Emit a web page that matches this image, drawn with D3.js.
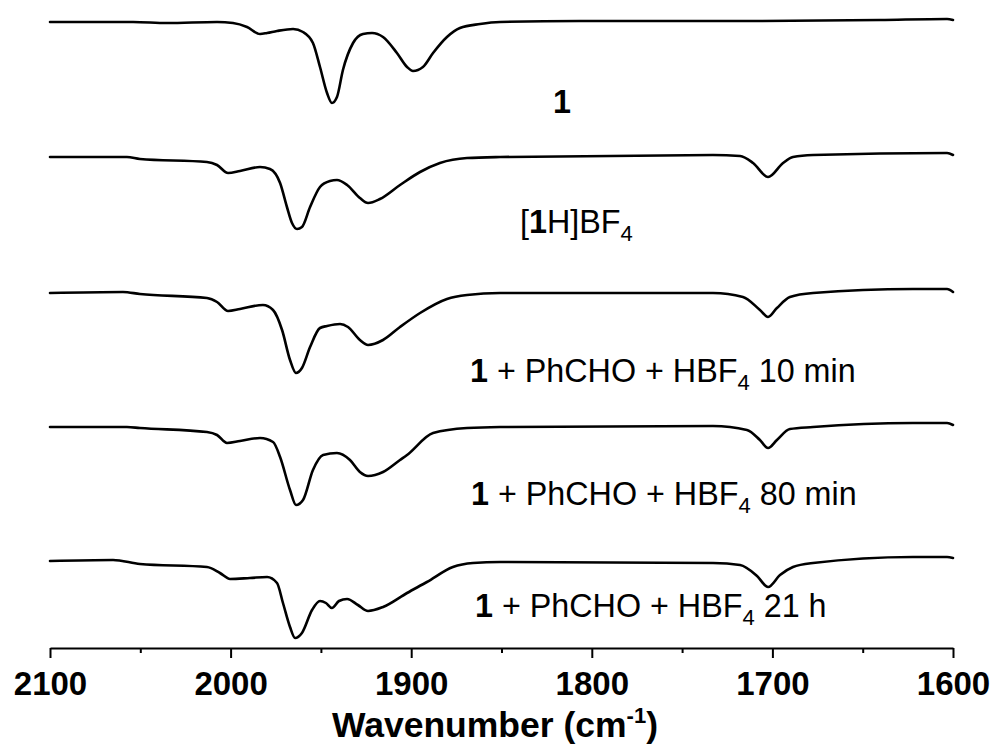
<!DOCTYPE html>
<html>
<head>
<meta charset="utf-8">
<script src="https://cdn.jsdelivr.net/npm/d3@7"></script>
<style>
  html, body { margin: 0; padding: 0; background: #fff; }
  svg { display: block; }
  text { font-family: "Liberation Sans", Arial, sans-serif; fill: #000; }
</style>
</head>
<body>
<svg id="chart" width="997" height="748"></svg>
<script>
// ---- Data (wavenumber in cm^-1, transmittance in arbitrary stacked units) ----
const wn1 = [2100,2054.0,2035.2,2007.5,1998.7,1990.9,1983.7,1979.8,1974.3,1965.4,1959.9,1954.4,1950.5,1946.6,1943.9,1941.1,1937.8,1932.2,1926.7,1921.7,1915.6,1907.9,1902.3,1899.0,1893.5,1887.9,1880.2,1873.0,1861.9,1850.8,1806.5,1714.1,1640.4,1603.3,1600];
const t1  = [62.6,62.6,62.5,62.6,62.5,62.1,61.4,61.5,61.7,61.9,61.6,60.5,58.1,55.5,54.5,55.1,57.8,60.5,61.4,61.5,61.1,59.5,58.1,57.7,58.1,59.5,61.1,62.0,62.4,62.6,62.7,62.7,62.8,62.9,62.8];

const wn2 = [2100,2057.4,2050.2,2013.1,2007.5,2001.4,1994.8,1983.7,1978.2,1972.6,1968.8,1966.0,1963.2,1960.5,1956.0,1950.5,1945.0,1941.1,1935.5,1928.4,1923.9,1917.3,1906.2,1895.1,1884.1,1869.1,1850.8,1732.9,1717.9,1710.7,1702.4,1694.1,1688.6,1677.5,1603.3,1600];
const t2  = [49.1,49.1,48.9,48.6,48.3,47.5,47.7,48.1,47.9,46.5,44.1,42.5,41.9,42.1,44.1,46.1,46.7,46.8,46.3,45.0,44.5,44.9,46.3,47.6,48.5,49.0,49.1,49.3,49.2,48.5,47.1,48.5,49.1,49.3,49.5,49.3];

const wn3 = [2100,2059.6,2050.2,2013.1,2007.5,2001.4,1994.8,1982.1,1976.5,1971.5,1967.1,1963.8,1960.5,1956.0,1950.5,1946.6,1939.4,1935.0,1928.4,1923.9,1915.6,1906.2,1895.1,1880.2,1869.1,1850.8,1732.9,1716.3,1706.9,1702.4,1697.5,1690.3,1677.5,1622.2,1603.3,1600];
const t3  = [35.5,35.6,35.4,35.0,34.6,33.7,33.9,34.3,33.8,31.8,28.8,27.5,28.0,30.1,32.0,32.2,32.4,32.1,30.8,30.3,30.8,32.1,33.5,34.9,35.3,35.5,35.5,35.1,33.8,33.1,34.0,35.1,35.5,35.9,35.9,35.6];

const wn4 = [2100,2057.4,2050.2,2013.1,2007.5,2002.0,1994.8,1983.7,1976.5,1972.6,1967.1,1963.8,1959.9,1954.4,1948.8,1941.1,1933.9,1928.4,1923.9,1915.6,1906.2,1902.3,1887.9,1869.1,1850.8,1732.9,1714.1,1706.9,1702.4,1697.5,1690.3,1677.5,1622.2,1603.3,1600];
const t4  = [22.1,22.1,22.0,21.6,21.3,20.5,20.7,21.0,20.6,19.1,15.8,14.3,14.8,17.8,19.3,19.5,18.8,17.6,17.2,17.6,18.8,19.3,21.5,22.0,22.1,22.2,21.8,20.8,20.0,20.8,21.9,22.1,22.5,22.5,22.3];

const wn5 = [2100,2065.1,2050.2,2013.1,2005.9,2000.3,1989.3,1979.8,1974.3,1971.0,1967.1,1964.3,1960.5,1954.9,1950.5,1947.2,1943.9,1940.0,1935.5,1929.5,1923.9,1915.6,1902.3,1891.3,1876.9,1865.8,1850.8,1732.9,1717.9,1708.5,1702.4,1695.8,1688.6,1677.5,1622.2,1603.3,1600];
const t5  = [8.7,8.8,8.4,8.1,7.5,6.9,7.0,7.1,6.5,4.5,2.1,1.0,1.5,3.8,4.7,4.5,4.0,4.7,4.9,4.3,3.7,4.1,5.5,6.6,8.1,8.5,8.6,8.5,8.3,7.2,6.1,7.3,8.1,8.5,9.1,9.1,9.0];

const xTicksMajor = [2100, 2000, 1900, 1800, 1700, 1600];
const xTicksMinor = [2050, 1950, 1850, 1750, 1650];

const seriesX = [wn1, wn2, wn3, wn4, wn5];
const seriesY = [t1, t2, t3, t4, t5];

// ---- Layout ----
const svg = d3.select("#chart");
const x = d3.scaleLinear().domain([2100, 1600]).range([50, 953]);
const y = d3.scaleLinear().domain([0, 64.8]).range([648, 0]);

const line = d3.line()
  .x(d => x(d[0]))
  .y(d => y(d[1]))
  .curve(d3.curveMonotoneX);

seriesX.forEach((xs, i) => {
  const pts = xs.map((w, j) => [w, seriesY[i][j]]);
  svg.append("path")
    .datum(pts)
    .attr("d", line)
    .attr("fill", "none")
    .attr("stroke", "#000")
    .attr("stroke-width", 2.6)
    .attr("stroke-linejoin", "round")
    .attr("stroke-linecap", "round");
});

// ---- Axis ----
const axisG = svg.append("g").attr("transform", "translate(0,648)");
const axis = d3.axisBottom(x).tickValues(xTicksMajor).tickSize(10).tickPadding(12).tickSizeOuter(0)
  .tickFormat(d3.format("d"));
axisG.call(axis);
axisG.select(".domain").attr("stroke", "#000").attr("stroke-width", 2);
axisG.selectAll(".tick line").attr("stroke", "#000").attr("stroke-width", 2);
axisG.selectAll(".tick text")
  .attr("font-family", "Liberation Sans, Arial, sans-serif")
  .attr("font-size", 33).attr("font-weight", "bold").attr("fill", "#000")
  .attr("dy", null).attr("y", 47);

const minorG = svg.append("g").attr("transform", "translate(0,648)");
minorG.call(d3.axisBottom(x).tickValues(xTicksMinor).tickSize(5).tickFormat(""));
minorG.select(".domain").remove();
minorG.selectAll(".tick line").attr("stroke", "#000").attr("stroke-width", 2);

// ---- Axis title ----
const title = svg.append("text")
  .attr("x", 495).attr("y", 737)
  .attr("text-anchor", "middle")
  .attr("font-size", 35.5).attr("font-weight", "bold");
title.append("tspan").text("Wavenumber (cm");
title.append("tspan").attr("font-size", 22).attr("dy", -14).text("-1");
title.append("tspan").attr("dy", 14).text(")");

// ---- Trace labels ----
function label(xp, yp, parts) {
  const t = svg.append("text").attr("x", xp).attr("y", yp).attr("font-size", 32.3);
  parts.forEach(p => {
    const s = t.append("tspan").text(p.t);
    if (p.b) s.attr("font-weight", "bold");
    if (p.sub) s.attr("font-size", 22).attr("dy", 8);
    if (p.after) s.attr("dy", -8);
  });
}
label(553, 113, [{t: "1", b: true}]);
label(520, 233, [{t: "["}, {t: "1", b: true}, {t: "H]BF"}, {t: "4", sub: true}]);
label(470, 382, [{t: "1", b: true}, {t: " + PhCHO + HBF"}, {t: "4", sub: true}, {t: " 10 min", after: true}]);
label(471, 505, [{t: "1", b: true}, {t: " + PhCHO + HBF"}, {t: "4", sub: true}, {t: " 80 min", after: true}]);
label(475, 617, [{t: "1", b: true}, {t: " + PhCHO + HBF"}, {t: "4", sub: true}, {t: " 21 h", after: true}]);
</script>
</body>
</html>
